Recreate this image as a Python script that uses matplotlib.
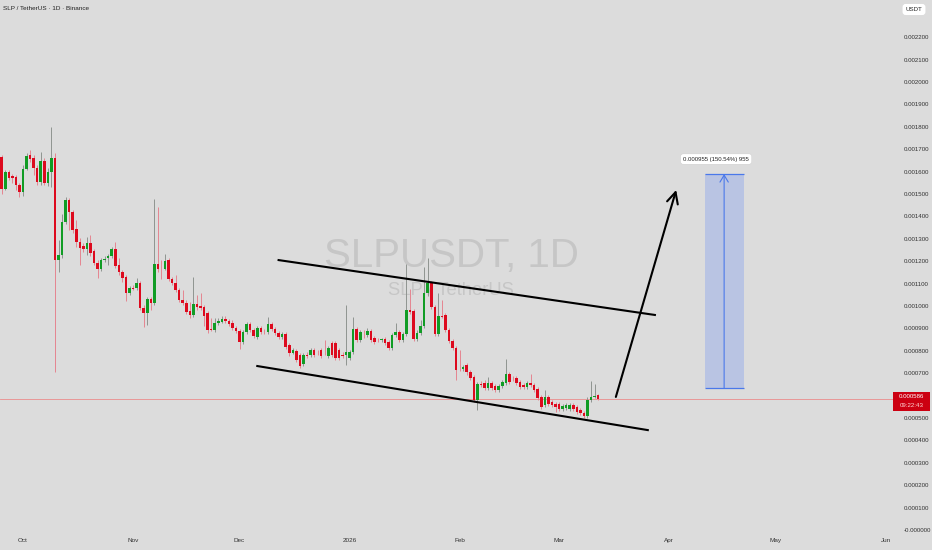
import numpy as np
import pandas as pd
import matplotlib
matplotlib.use('Agg')
import matplotlib.pyplot as plt
import matplotlib.dates as mdates
from matplotlib.patches import Rectangle
from matplotlib.transforms import blended_transform_factory

plt.rcParams['font.family'] = ['Liberation Sans Narrow', 'Liberation Sans', 'DejaVu Sans']

# daily candles, prices in 1e-6 USDT
start_date = '2025-09-25'
opens = [1665, 1522, 1598, 1580, 1576, 1540, 1509, 1612, 1674, 1660,
         1616, 1553, 1647, 1549, 1598, 1660, 1205, 1228, 1375, 1473,
         1420, 1344, 1286, 1268, 1255, 1281, 1246, 1192, 1165, 1205,
         1214, 1223, 1255, 1183, 1152, 1129, 1058, 1080, 1080, 1103,
         991, 969, 1031, 1013, 1188, 1165, 1165, 1205, 1120, 1103,
         1071, 1027, 1013, 978, 960, 1009, 1000, 996, 969, 897,
         893, 924, 929, 942, 933, 924, 902, 888, 839, 884,
         920, 893, 862, 902, 884, 884, 920, 897, 879, 862,
         875, 826, 790, 799, 781, 741, 781, 781, 804, 795,
         804, 795, 777, 835, 835, 804, 781, 781, 768, 795,
         897, 848, 871, 871, 888, 857, 848, 848, 853, 839,
         813, 871, 884, 848, 875, 982, 978, 853, 879, 911,
         1058, 1103, 996, 875, 955, 960, 893, 844, 813, 719,
         719, 737, 705, 683, 580, 652, 656, 634, 656, 643,
         625, 643, 656, 696, 674, 679, 661, 647, 638, 656,
         647, 629, 594, 558, 594, 571, 563, 563, 540, 545,
         540, 558, 549, 536, 522, 509, 580, 594, 603]
highs = [1674, 1607, 1607, 1589, 1585, 1549, 1630, 1683, 1696, 1674,
         1630, 1687, 1660, 1616, 1799, 1683, 1295, 1411, 1487, 1482,
         1429, 1384, 1304, 1281, 1308, 1317, 1255, 1205, 1214, 1223,
         1232, 1264, 1286, 1214, 1161, 1138, 1089, 1094, 1125, 1111,
         1004, 1040, 1040, 1478, 1442, 1205, 1232, 1214, 1129, 1138,
         1080, 1071, 1027, 1018, 1129, 1049, 1058, 1004, 978, 946,
         946, 946, 955, 955, 942, 937, 911, 897, 893, 929,
         929, 902, 911, 911, 897, 951, 929, 906, 888, 884,
         884, 835, 813, 808, 790, 790, 795, 813, 813, 804,
         813, 848, 822, 844, 844, 813, 795, 1004, 804, 951,
         906, 893, 893, 902, 897, 866, 857, 857, 862, 848,
         879, 924, 893, 884, 1188, 1076, 987, 893, 937, 1174,
         1214, 1111, 1004, 1058, 1027, 969, 902, 853, 821, 804,
         737, 746, 714, 692, 661, 665, 670, 683, 665, 652,
         652, 670, 763, 705, 687, 687, 670, 656, 665, 696,
         656, 638, 603, 625, 603, 580, 571, 571, 563, 567,
         567, 567, 558, 545, 531, 594, 665, 652, 607]
lows = [1500, 1518, 1562, 1549, 1518, 1487, 1491, 1607, 1643, 1585,
        1540, 1540, 1540, 1536, 1531, 705, 1152, 1214, 1366, 1339,
        1326, 1264, 1183, 1241, 1228, 1223, 1183, 1125, 1156, 1196,
        1183, 1214, 1170, 1138, 1107, 1022, 1049, 1071, 1071, 982,
        906, 915, 982, 1004, 1152, 1120, 1161, 1111, 1094, 1062,
        1018, 1004, 964, 946, 951, 982, 982, 911, 879, 888,
        884, 915, 924, 924, 911, 893, 879, 808, 830, 875,
        884, 857, 853, 875, 875, 875, 888, 870, 853, 853,
        808, 777, 786, 750, 723, 732, 768, 773, 773, 781,
        768, 781, 768, 773, 759, 759, 768, 737, 759, 786,
        839, 839, 857, 862, 839, 830, 839, 839, 826, 804,
        804, 862, 839, 839, 866, 964, 844, 844, 871, 902,
        1045, 987, 866, 866, 946, 884, 835, 804, 670, 710,
        710, 692, 670, 571, 536, 638, 625, 625, 625, 616,
        616, 634, 647, 652, 665, 647, 629, 629, 629, 638,
        616, 580, 540, 549, 554, 549, 527, 531, 531, 536,
        531, 531, 518, 513, 500, 500, 571, 589, 580]
closes = [1522, 1598, 1571, 1571, 1540, 1509, 1612, 1669, 1656, 1616,
          1553, 1647, 1549, 1598, 1660, 1205, 1228, 1375, 1473, 1420,
          1339, 1286, 1259, 1255, 1281, 1237, 1192, 1165, 1205, 1210,
          1223, 1255, 1179, 1152, 1125, 1058, 1080, 1078, 1103, 991,
          969, 1031, 1013, 1188, 1165, 1163, 1201, 1120, 1103, 1071,
          1027, 1013, 973, 960, 1009, 996, 991, 955, 893, 895,
          924, 933, 942, 933, 920, 902, 888, 839, 884, 920,
          893, 866, 902, 884, 882, 920, 897, 879, 862, 875,
          817, 790, 804, 759, 732, 781, 779, 804, 781, 793,
          777, 793, 813, 781, 768, 768, 779, 795, 795, 897,
          848, 884, 869, 888, 848, 839, 846, 850, 835, 813,
          871, 884, 848, 875, 982, 973, 853, 879, 911, 1058,
          1103, 996, 875, 955, 953, 893, 844, 813, 714, 717,
          728, 705, 679, 580, 652, 647, 634, 656, 634, 625,
          643, 661, 696, 661, 672, 656, 638, 638, 656, 647,
          625, 589, 549, 594, 563, 558, 549, 540, 554, 558,
          558, 540, 527, 522, 509, 580, 594, 598, 586]

last_price = 586
countdown = '09:22:43'

month_ticks = ['2025-10-01', '2025-11-01', '2025-12-01', '2026-01-01', '2026-02-01',
               '2026-03-01', '2026-04-01', '2026-05-01', '2026-06-01']
month_labels = ['Oct', 'Nov', 'Dec', '2026', 'Feb', 'Mar', 'Apr', 'May', 'Jun']
price_ticks = [0, 100, 200, 300, 400, 500, 600, 700, 800, 900, 1000, 1100,
               1200, 1300, 1400, 1500, 1600, 1700, 1800, 1900, 2000, 2100, 2200]

# drawings
upper_line_dates = ['2025-12-12', '2026-03-28']
upper_line_prices = [1205, 960]
lower_line_dates = ['2025-12-06', '2026-03-26']
lower_line_prices = [732, 446]
arrow_dates = ['2026-03-17', '2026-04-03']
arrow_prices = [594, 1518]
target_dates = ['2026-04-11', '2026-04-22']
target_prices = [634, 1589]
target_label = '0.000955 (150.54%) 955'
target_label_date = '2026-04-14 06:00'
target_label_price = 1656

bg = '#dcdcdc'
up_col, down_col = '#119c25', '#dd0a1e'
up_wick, down_wick = '#8f9490', '#e58590'
u = 1e-6

o = np.array(opens) * u
h = np.array(highs) * u
l = np.array(lows) * u
c = np.array(closes) * u
x = mdates.date2num(pd.date_range(start_date, periods=len(closes), freq='D'))

fig = plt.figure(figsize=(9.32, 5.5), dpi=100, facecolor=bg)
ax = fig.add_axes([0, 1 - 534 / 550, 893 / 932, 534 / 550])
ax.set_facecolor(bg)
for s in ax.spines.values():
    s.set_visible(False)

# watermark
ax.text(0.505, 0.5, 'SLPUSDT, 1D', transform=ax.transAxes, fontsize=29,
        color='#c6c6c6', ha='center', va='baseline', zorder=0)
ax.text(0.505, 0.4476, 'SLP / TetherUS', transform=ax.transAxes, fontsize=13.2,
        color='#c6c6c6', ha='center', va='baseline', zorder=0)

# candles
rising = c >= o
ax.vlines(x, l, h, colors=np.where(rising, up_wick, down_wick), lw=0.7, zorder=2)
ax.bar(x, np.maximum(np.abs(c - o), 2.5 * u), bottom=np.minimum(o, c), width=0.72,
       color=np.where(rising, up_col, down_col), linewidth=0, zorder=3)

# last price line
ax.axhline(last_price * u, color='#eb8c8c', lw=0.6, zorder=1)

# channel lines
ax.plot(mdates.datestr2num(upper_line_dates), np.array(upper_line_prices) * u,
        color='black', lw=1.5, zorder=4)
ax.plot(mdates.datestr2num(lower_line_dates), np.array(lower_line_prices) * u,
        color='black', lw=1.5, zorder=4)
ad = mdates.datestr2num(arrow_dates)
ax.annotate('', xy=(ad[1], arrow_prices[1] * u), xytext=(ad[0], arrow_prices[0] * u),
            arrowprops=dict(arrowstyle='->,head_length=0.8,head_width=0.4', lw=1.5,
                            color='black', shrinkA=0, shrinkB=0), zorder=4)

# target box
td = mdates.datestr2num(target_dates)
tp = np.array(target_prices) * u
ax.fill_between(td, tp[0], tp[1], color='#b9c4e3', lw=0, zorder=1)
ax.hlines(tp, td[0], td[1], color='#4a78ea', lw=0.9, zorder=2)
tc = td.mean()
ax.annotate('', xy=(tc, tp[1]), xytext=(tc, tp[0]),
            arrowprops=dict(arrowstyle='->,head_length=0.5,head_width=0.3', lw=0.8,
                            color='#4a78ea', shrinkA=0, shrinkB=0), zorder=2)
ax.text(mdates.datestr2num(target_label_date), target_label_price * u, target_label,
        fontsize=4.3, color='#222222', ha='center', va='center', zorder=5,
        bbox=dict(boxstyle='round,pad=0.45', fc='white', ec='#cccccc', lw=0.3))

# axes
oct1 = mdates.datestr2num('2025-10-01')
left = oct1 - 23 / 3.55
ax.set_xlim(left, left + 893 / 3.55)
ax.set_ylim(-4 / 224000, 530 / 224000)

ax.set_xticks(mdates.datestr2num(month_ticks))
ax.set_xticklabels(month_labels)
ax.tick_params(axis='x', length=0, pad=3, labelsize=4.6, colors='#333333')

ax.yaxis.tick_right()
ax.set_yticks(np.array(price_ticks) * u)
ax.set_yticklabels(['-0.000000' if v == 0 else f'{v * u:.6f}' for v in price_ticks])
ax.tick_params(axis='y', length=0, pad=8, labelsize=4.4, colors='#333333')

# last price tag
tr = blended_transform_factory(ax.transAxes, ax.transData)
ax.add_patch(Rectangle((1.0, 531 * u), 37 / 893, 85 * u, transform=tr,
                       fc='#cc0011', ec='none', clip_on=False, zorder=10))
ax.text(1.0 + 18.5 / 893, 594 * u, f'{last_price * u:.6f}', transform=tr, color='white',
        fontsize=4.4, ha='center', va='center', clip_on=False, zorder=11)
ax.text(1.0 + 18.5 / 893, 554 * u, countdown, transform=tr, color='#ffd6d6',
        fontsize=4.4, ha='center', va='center', clip_on=False, zorder=11)

fig.text(3 / 932, 1 - 8 / 550, 'SLP / TetherUS · 1D · Binance', fontsize=4.6,
         color='#222222', va='center')
fig.text(914 / 932, 1 - 9.5 / 550, 'USDT', fontsize=4.4, color='#222222',
         ha='center', va='center',
         bbox=dict(boxstyle='round,pad=0.5', fc='white', ec='none'))

fig.savefig('out.png', dpi=100, facecolor=bg)
